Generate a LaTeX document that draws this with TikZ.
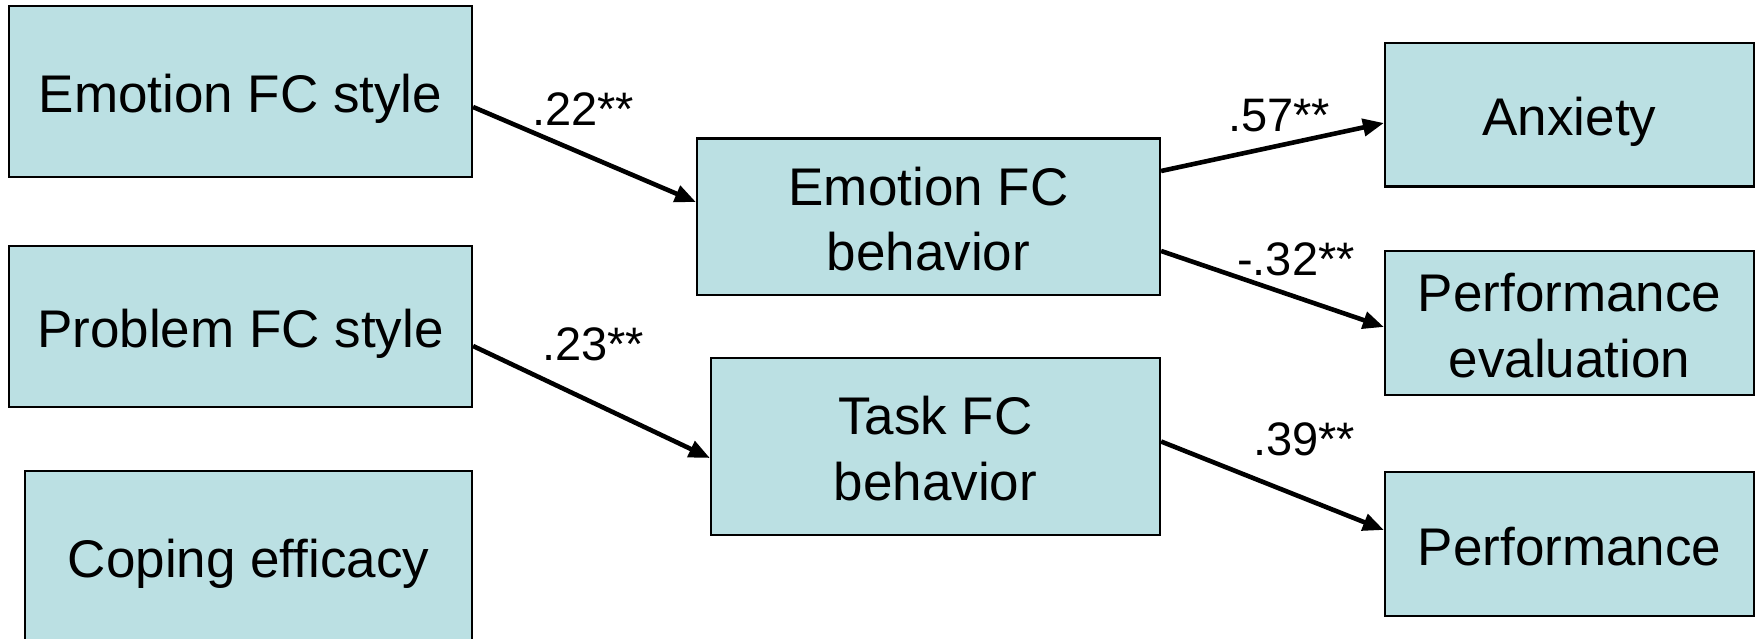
\documentclass[tikz,border=0pt]{standalone}
\usepackage{fontspec}
\setmainfont{Liberation Sans}
\usetikzlibrary{arrows.meta}
\definecolor{boxfill}{RGB}{187,224,227}
% strut giving every text line in a box the same height and depth
\newcommand\bxstrut{\rule[-11.2pt]{0pt}{64.8pt}}
\begin{document}
\begin{tikzpicture}[x=1pt,y=-1pt,
  var/.style={draw=black, line width=2.2pt, fill=boxfill, inner sep=0pt,
    align=center, font=\fontsize{53}{61}\selectfont},
  link/.style={line width=4.6pt, -{Triangle[length=21pt,width=17pt]}},
  coef/.style={inner sep=0pt, anchor=base west, font=\fontsize{47}{52}\selectfont}]
\useasboundingbox (0,0) rectangle (1758,639);
\clip (0,0) rectangle (1758,639);

% predictors
\node[var, minimum width=463pt, minimum height=171pt] (efcs) at (240.5,91.5)
  {\bxstrut Emotion FC style};
\node[var, minimum width=463pt, minimum height=161pt] (pfcs) at (240.5,326.5)
  {\bxstrut Problem FC style};
\node[var, minimum width=447pt, minimum height=169.6pt] (cope) at (248.5,555.8)
  {\bxstrut Coping efficacy};

% mediators
\node[var, minimum width=463pt, minimum height=156.5pt] (efcb) at (928.5,216.75)
  {\bxstrut Emotion FC\\\bxstrut behavior};
\node[var, minimum width=449pt, minimum height=177pt] (tfcb) at (935.5,446.5)
  {\bxstrut Task FC\\\bxstrut behavior};

% outcomes
\node[var, minimum width=369pt, minimum height=143.5pt] (anx) at (1569.5,114.75)
  {\bxstrut Anxiety};
\node[var, minimum width=369pt, minimum height=144pt] (peval) at (1569.5,323)
  {\bxstrut Performance\\\bxstrut evaluation};
\node[var, minimum width=369pt, minimum height=144pt] (perf) at (1569.5,544)
  {\bxstrut Performance};

% paths
\draw[link] ([yshift=-15.5pt]efcs.east) -- ([yshift=14.75pt]efcb.west);
\draw[link] ([yshift=-19.5pt]pfcs.east) -- ([yshift=-11.5pt]tfcb.west);
\draw[link] ([yshift=45.75pt]efcb.east) -- ([yshift=-8.25pt]anx.west);
\draw[link] ([yshift=-34.25pt]efcb.east) -- ([yshift=-4pt]peval.west);
\draw[link] ([yshift=5pt]tfcb.east) -- ([yshift=14pt]perf.west);

% path coefficients
\node[coef] (c1) at (532,126) {.22**};
\node[coef] (c2) at (542,360) {.23**};
\node[coef] (c3) at (1228,132) {.57**};
\node[coef] (c4) at (1237,275) {-.32**};
\node[coef] (c5) at (1253,455) {.39**};
\end{tikzpicture}
\end{document}
